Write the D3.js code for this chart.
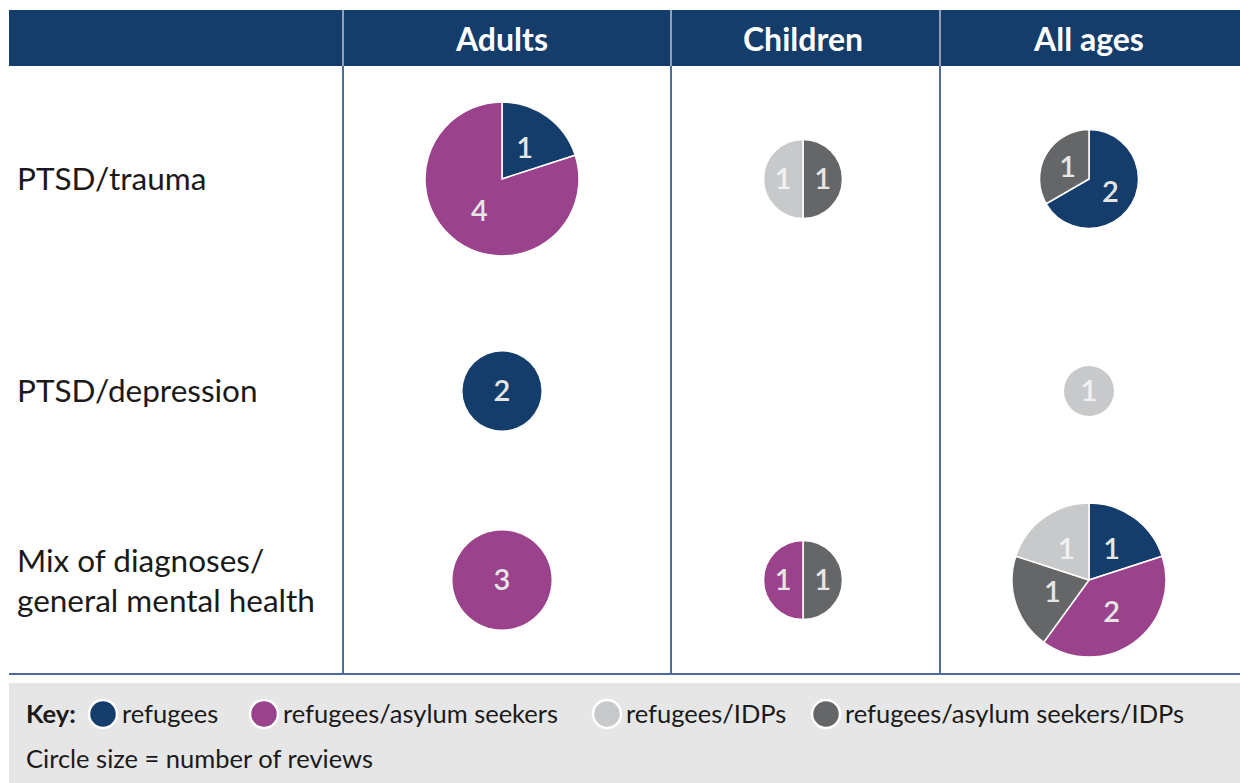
<!DOCTYPE html>
<html>
<head>
<meta charset="utf-8">
<title>Reviews by population and diagnosis</title>
<script src="https://cdn.jsdelivr.net/npm/d3@7"></script>
<style>
  body { margin: 0; background: #fff; }
  text { font-family: Lato, "Noto Sans", sans-serif; }
</style>
</head>
<body>
<script>
// ---- data ----
var columns = ["Adults", "Children", "All ages"];
var rows = [["PTSD/trauma"], ["PTSD/depression"], ["Mix of diagnoses/", "general mental health"]];
var groups = ["refugees", "refugees/asylum seekers", "refugees/IDPs", "refugees/asylum seekers/IDPs"];
var groupColors = ["#143d6c", "#9b428d", "#c8c9cb", "#656668"];

// each cell: slices in drawing order (clockwise from 12 o'clock)
var traumaAdults    = [{g: 0, n: 1}, {g: 1, n: 4}];
var traumaChildren  = [{g: 3, n: 1}, {g: 2, n: 1}];
var traumaAll       = [{g: 0, n: 2}, {g: 3, n: 1}];
var depressionAdults = [{g: 0, n: 2}];
var depressionAll    = [{g: 2, n: 1}];
var mixAdults   = [{g: 1, n: 3}];
var mixChildren = [{g: 3, n: 1}, {g: 1, n: 1}];
var mixAll      = [{g: 0, n: 1}, {g: 1, n: 2}, {g: 3, n: 1}, {g: 2, n: 1}];

var cells = [
  {row: 0, col: 0, slices: traumaAdults},
  {row: 0, col: 1, slices: traumaChildren},
  {row: 0, col: 2, slices: traumaAll},
  {row: 1, col: 0, slices: depressionAdults},
  {row: 1, col: 2, slices: depressionAll},
  {row: 2, col: 0, slices: mixAdults},
  {row: 2, col: 1, slices: mixChildren},
  {row: 2, col: 2, slices: mixAll}
];

// ---- layout ----
var width = 1240, height = 783;
var left = 9, headTop = 10, headBottom = 66, bodyBottom = 674;
var colEdges = [343, 671, 940];
var colCenters = [502, 803, 1089];
var rowCenters = [179, 391, 580];
var navy = "#143d6c", rule = "#4d6c98";

// circle radius by number of reviews
var rScale = d3.scaleLinear().domain([1, 2, 3, 5]).range([25, 39.5, 49.5, 77]);

var svg = d3.select("body").append("svg")
  .attr("width", width)
  .attr("height", height);

// header band
svg.append("rect")
  .attr("x", left).attr("y", headTop)
  .attr("width", width - left).attr("height", headBottom - headTop)
  .attr("fill", navy);

colEdges.forEach(function(x) {
  svg.append("line")
    .attr("x1", x).attr("x2", x).attr("y1", headTop).attr("y2", headBottom)
    .attr("stroke", "#b9c3d3").attr("stroke-width", 1.5);
  svg.append("line")
    .attr("x1", x).attr("x2", x).attr("y1", headBottom).attr("y2", bodyBottom)
    .attr("stroke", rule).attr("stroke-width", 2);
});

svg.append("line")
  .attr("x1", left).attr("x2", width).attr("y1", bodyBottom).attr("y2", bodyBottom)
  .attr("stroke", rule).attr("stroke-width", 2);

svg.selectAll("text.colhead")
  .data(columns)
  .enter().append("text")
  .attr("class", "colhead")
  .attr("x", function(d, i) { return colCenters[i]; })
  .attr("y", 51)
  .attr("text-anchor", "middle")
  .attr("fill", "#fff")
  .attr("font-weight", 700)
  .attr("font-size", 32)
  .text(function(d) { return d; });

// row labels
rows.forEach(function(lines, i) {
  var t = svg.append("text")
    .attr("x", 17)
    .attr("y", rowCenters[i] - (lines.length - 1) * 19 + 11)
    .attr("font-size", 31.5)
    .attr("fill", "#1a1a1a");
  lines.forEach(function(l, j) {
    t.append("tspan").attr("x", 17).attr("dy", j ? 40 : 0).text(l);
  });
});

// pies
var pie = d3.pie().sort(null).value(function(d) { return d.n; });

cells.forEach(function(c) {
  var total = d3.sum(c.slices, function(d) { return d.n; });
  var r = rScale(total);
  var arc = d3.arc().innerRadius(0).outerRadius(r);
  var g = svg.append("g")
    .attr("transform", "translate(" + colCenters[c.col] + "," + rowCenters[c.row] + ")");
  var arcs = pie(c.slices);
  g.selectAll("path")
    .data(arcs)
    .enter().append("path")
    .attr("d", arc)
    .attr("fill", function(d) { return groupColors[d.data.g]; })
    .attr("stroke", arcs.length > 1 ? "#fff" : "none")
    .attr("stroke-width", 1.5);
  g.selectAll("text")
    .data(arcs)
    .enter().append("text")
    .attr("transform", function(d) {
      var p = arcs.length > 1 ? arc.centroid(d) : [0, 0];
      return "translate(" + p[0] + "," + p[1] + ")";
    })
    .attr("text-anchor", "middle")
    .attr("dy", "0.36em")
    .attr("font-size", 29)
    .attr("font-weight", 600)
    .attr("fill", function(d) { return d.data.g === 2 ? "#f2f2f2" : "#e6e6e6"; })
    .text(function(d) { return d.data.n; });
});

// key
svg.append("rect")
  .attr("x", left).attr("y", 683)
  .attr("width", width - left).attr("height", height - 683)
  .attr("fill", "#e6e6e6");

svg.append("text")
  .attr("x", 26).attr("y", 723)
  .attr("font-size", 25.5).attr("font-weight", 700).attr("fill", "#1a1a1a")
  .text("Key:");

var keyX = [103, 264, 607, 826];
groups.forEach(function(name, i) {
  svg.append("circle")
    .attr("cx", keyX[i]).attr("cy", 714).attr("r", 14)
    .attr("fill", groupColors[i])
    .attr("stroke", "#fff").attr("stroke-width", 2.5);
  svg.append("text")
    .attr("x", keyX[i] + 19).attr("y", 723)
    .attr("font-size", 25.5).attr("fill", "#1a1a1a")
    .text(name);
});

svg.append("text")
  .attr("x", 26).attr("y", 768)
  .attr("font-size", 25.5).attr("fill", "#1a1a1a")
  .text("Circle size = number of reviews");
</script>
</body>
</html>
